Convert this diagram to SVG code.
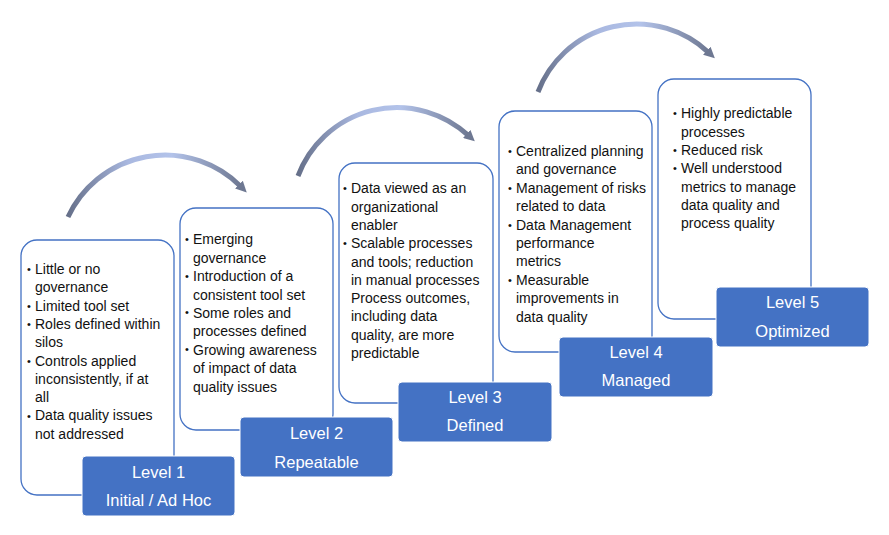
<svg xmlns="http://www.w3.org/2000/svg" width="889" height="535" viewBox="0 0 889 535">
<defs>
<linearGradient id="arcGrad" x1="0" y1="0" x2="1" y2="0">
<stop offset="0" stop-color="#66708A"/>
<stop offset="0.35" stop-color="#A9B8E0"/>
<stop offset="0.6" stop-color="#B3C3EA"/>
<stop offset="1" stop-color="#6E7892"/>
</linearGradient>
<marker id="head" markerUnits="userSpaceOnUse" viewBox="0 0 10 10" markerWidth="11" markerHeight="11" refX="2" refY="5" orient="auto">
<path d="M0,0 L10,5 L0,10 z" fill="#6E7892"/>
</marker>
<style>
.card{fill:#fff;stroke:#4472C4;stroke-width:1.3}
.lvl{fill:#4472C4;stroke:#fff;stroke-width:1}
.body{font-family:"Liberation Sans",Arial,sans-serif;font-size:14px;fill:#111}
.bul{font-family:"Liberation Sans",Arial,sans-serif;font-size:11px;fill:#111}
.lab{font-family:"Liberation Sans",Arial,sans-serif;font-size:16.5px;fill:#fff;text-anchor:middle}
.arc{fill:none;stroke:url(#arcGrad);stroke-width:5;marker-end:url(#head)}
</style>
</defs>
<rect width="889" height="535" fill="#fff"/>
<g id="connectors">
<path class="arc" d="M68,217 A107,107 0 0 1 240.5,186.2"/>
<path class="arc" d="M298,176 A105.5,105.5 0 0 1 468.3,135.4"/>
<path class="arc" d="M538,92 A105.4,105.4 0 0 1 708.4,52.3"/>
</g>
<g id="level1">
<rect class="card" x="21" y="240" width="153" height="255" rx="16"/>
<text class="bul"><tspan x="27" y="273">•</tspan><tspan x="27" y="310">•</tspan><tspan x="27" y="328">•</tspan><tspan x="27" y="365">•</tspan><tspan x="27" y="420">•</tspan></text>
<text class="body">
<tspan x="35" y="274">Little or no</tspan>
<tspan x="35" y="292.3">governance</tspan>
<tspan x="35" y="310.6">Limited tool set</tspan>
<tspan x="35" y="328.9">Roles defined within</tspan>
<tspan x="35" y="347.2">silos</tspan>
<tspan x="35" y="365.5">Controls applied</tspan>
<tspan x="35" y="383.8">inconsistently, if at</tspan>
<tspan x="35" y="402.1">all</tspan>
<tspan x="35" y="420.4">Data quality issues</tspan>
<tspan x="35" y="438.7">not addressed</tspan>
</text>
<rect class="lvl" x="82" y="456" width="153" height="60" rx="4"/>
<text class="lab"><tspan x="158.5" y="478">Level 1</tspan><tspan x="158.5" y="506">Initial / Ad Hoc</tspan></text>
</g>
<g id="level2">
<rect class="card" x="180" y="208" width="153" height="222" rx="16"/>
<text class="bul"><tspan x="185" y="243">•</tspan><tspan x="185" y="280">•</tspan><tspan x="185" y="316">•</tspan><tspan x="185" y="353">•</tspan></text>
<text class="body">
<tspan x="193" y="244.3">Emerging</tspan>
<tspan x="193" y="262.7">governance</tspan>
<tspan x="193" y="281.1">Introduction of a</tspan>
<tspan x="193" y="299.5">consistent tool set</tspan>
<tspan x="193" y="317.9">Some roles and</tspan>
<tspan x="193" y="336.3">processes defined</tspan>
<tspan x="193" y="354.7">Growing awareness</tspan>
<tspan x="193" y="373.1">of impact of data</tspan>
<tspan x="193" y="391.5">quality issues</tspan>
</text>
<rect class="lvl" x="240" y="417" width="153" height="60" rx="4"/>
<text class="lab"><tspan x="316.5" y="439">Level 2</tspan><tspan x="316.5" y="468">Repeatable</tspan></text>
</g>
<g id="level3">
<rect class="card" x="339" y="163" width="154" height="240" rx="16"/>
<text class="bul"><tspan x="343" y="192">•</tspan><tspan x="343" y="247">•</tspan></text>
<text class="body">
<tspan x="351" y="193.3">Data viewed as an</tspan>
<tspan x="351" y="211.6">organizational</tspan>
<tspan x="351" y="229.9">enabler</tspan>
<tspan x="351" y="248.2">Scalable processes</tspan>
<tspan x="351" y="266.5">and tools; reduction</tspan>
<tspan x="351" y="284.8">in manual processes</tspan>
<tspan x="351" y="303.1">Process outcomes,</tspan>
<tspan x="351" y="321.4">including data</tspan>
<tspan x="351" y="339.7">quality, are more</tspan>
<tspan x="351" y="358">predictable</tspan>
</text>
<rect class="lvl" x="398" y="382" width="154" height="60" rx="4"/>
<text class="lab"><tspan x="475" y="403">Level 3</tspan><tspan x="475" y="431">Defined</tspan></text>
</g>
<g id="level4">
<rect class="card" x="499" y="111" width="153" height="241" rx="16"/>
<text class="bul"><tspan x="508" y="155">•</tspan><tspan x="508" y="192">•</tspan><tspan x="508" y="229">•</tspan><tspan x="508" y="284">•</tspan></text>
<text class="body">
<tspan x="516" y="156">Centralized planning</tspan>
<tspan x="516" y="174.4">and governance</tspan>
<tspan x="516" y="192.8">Management of risks</tspan>
<tspan x="516" y="211.2">related to data</tspan>
<tspan x="516" y="229.6">Data Management</tspan>
<tspan x="516" y="248">performance</tspan>
<tspan x="516" y="266.4">metrics</tspan>
<tspan x="516" y="284.8">Measurable</tspan>
<tspan x="516" y="303.2">improvements in</tspan>
<tspan x="516" y="321.6">data quality</tspan>
</text>
<rect class="lvl" x="559" y="337" width="154" height="60" rx="4"/>
<text class="lab"><tspan x="636" y="358">Level 4</tspan><tspan x="636" y="386">Managed</tspan></text>
</g>
<g id="level5">
<rect class="card" x="658" y="79" width="153" height="240" rx="16"/>
<text class="bul"><tspan x="673" y="117">•</tspan><tspan x="673" y="154">•</tspan><tspan x="673" y="172">•</tspan></text>
<text class="body">
<tspan x="681" y="118.3">Highly predictable</tspan>
<tspan x="681" y="136.6">processes</tspan>
<tspan x="681" y="154.9">Reduced risk</tspan>
<tspan x="681" y="173.2">Well understood</tspan>
<tspan x="681" y="191.5">metrics to manage</tspan>
<tspan x="681" y="209.8">data quality and</tspan>
<tspan x="681" y="228.1">process quality</tspan>
</text>
<rect class="lvl" x="716" y="287" width="153" height="60" rx="4"/>
<text class="lab"><tspan x="792.5" y="308">Level 5</tspan><tspan x="792.5" y="337">Optimized</tspan></text>
</g>
</svg>
